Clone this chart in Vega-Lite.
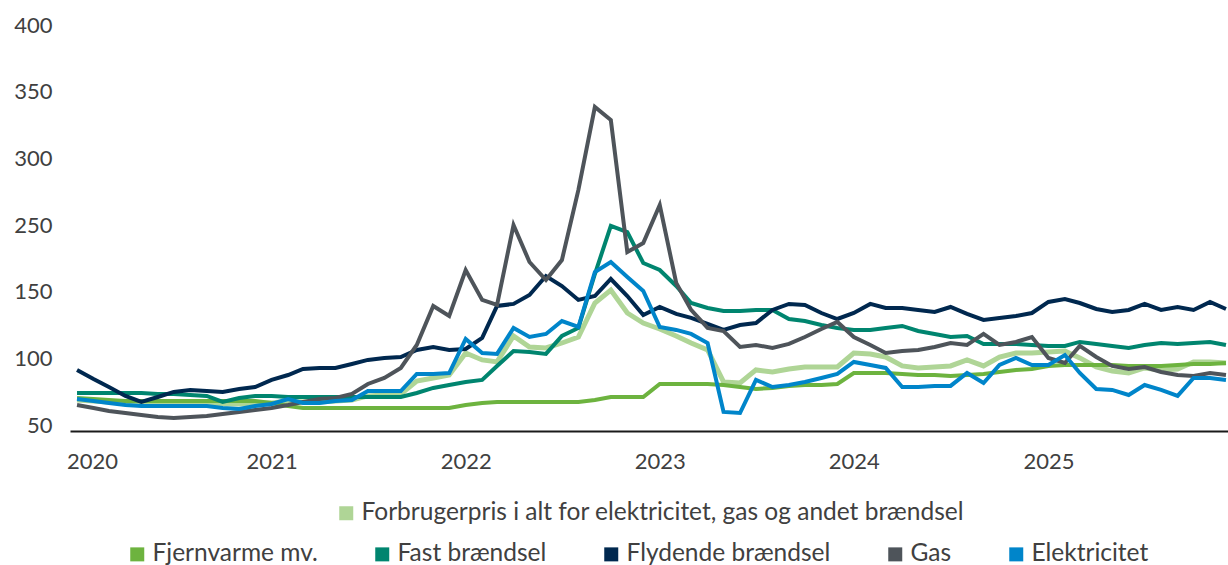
{
"$schema":"https://vega.github.io/schema/vega-lite/v6.json",
"width":1158,"height":400,"autosize":"none",
"padding":{"left":70,"top":31,"right":0,"bottom":134},
"background":"white",
"config":{"view":{"stroke":null},"font":"Lato",
"axis":{"labelFont":"Lato","labelFontSize":22,"labelColor":"#404040","grid":false,"ticks":false,"title":null},
"legend":{"labelFont":"Lato","labelFontSize":24.5,"labelColor":"#404040","symbolType":"square","symbolSize":196,"symbolStrokeWidth":0,"labelOffset":3,"labelLimit":800,"title":null}},
"data":{"values":[
{"m":"2020-01","s":"Forbrugerpris i alt for elektricitet, gas og andet brændsel","v":73.3},{"m":"2020-02","s":"Forbrugerpris i alt for elektricitet, gas og andet brændsel","v":72.5},{"m":"2020-03","s":"Forbrugerpris i alt for elektricitet, gas og andet brændsel","v":71.8},{"m":"2020-04","s":"Forbrugerpris i alt for elektricitet, gas og andet brændsel","v":71.8},{"m":"2020-05","s":"Forbrugerpris i alt for elektricitet, gas og andet brændsel","v":71},{"m":"2020-06","s":"Forbrugerpris i alt for elektricitet, gas og andet brændsel","v":71},{"m":"2020-07","s":"Forbrugerpris i alt for elektricitet, gas og andet brændsel","v":71},{"m":"2020-08","s":"Forbrugerpris i alt for elektricitet, gas og andet brændsel","v":71},{"m":"2020-09","s":"Forbrugerpris i alt for elektricitet, gas og andet brændsel","v":71},{"m":"2020-10","s":"Forbrugerpris i alt for elektricitet, gas og andet brændsel","v":70.3},{"m":"2020-11","s":"Forbrugerpris i alt for elektricitet, gas og andet brændsel","v":70.3},{"m":"2020-12","s":"Forbrugerpris i alt for elektricitet, gas og andet brændsel","v":71},
{"m":"2021-01","s":"Forbrugerpris i alt for elektricitet, gas og andet brændsel","v":71},{"m":"2021-02","s":"Forbrugerpris i alt for elektricitet, gas og andet brændsel","v":72.5},{"m":"2021-03","s":"Forbrugerpris i alt for elektricitet, gas og andet brændsel","v":71.8},{"m":"2021-04","s":"Forbrugerpris i alt for elektricitet, gas og andet brændsel","v":71.8},{"m":"2021-05","s":"Forbrugerpris i alt for elektricitet, gas og andet brændsel","v":72.5},{"m":"2021-06","s":"Forbrugerpris i alt for elektricitet, gas og andet brændsel","v":73.3},{"m":"2021-07","s":"Forbrugerpris i alt for elektricitet, gas og andet brændsel","v":76.3},{"m":"2021-08","s":"Forbrugerpris i alt for elektricitet, gas og andet brændsel","v":77},{"m":"2021-09","s":"Forbrugerpris i alt for elektricitet, gas og andet brændsel","v":77.8},{"m":"2021-10","s":"Forbrugerpris i alt for elektricitet, gas og andet brændsel","v":87.5},{"m":"2021-11","s":"Forbrugerpris i alt for elektricitet, gas og andet brændsel","v":89.8},{"m":"2021-12","s":"Forbrugerpris i alt for elektricitet, gas og andet brændsel","v":92},
{"m":"2022-01","s":"Forbrugerpris i alt for elektricitet, gas og andet brændsel","v":108.5},{"m":"2022-02","s":"Forbrugerpris i alt for elektricitet, gas og andet brændsel","v":103.3},{"m":"2022-03","s":"Forbrugerpris i alt for elektricitet, gas og andet brændsel","v":101.8},{"m":"2022-04","s":"Forbrugerpris i alt for elektricitet, gas og andet brændsel","v":121.3},{"m":"2022-05","s":"Forbrugerpris i alt for elektricitet, gas og andet brændsel","v":113},{"m":"2022-06","s":"Forbrugerpris i alt for elektricitet, gas og andet brændsel","v":112.3},{"m":"2022-07","s":"Forbrugerpris i alt for elektricitet, gas og andet brændsel","v":116},{"m":"2022-08","s":"Forbrugerpris i alt for elektricitet, gas og andet brændsel","v":120.5},{"m":"2022-09","s":"Forbrugerpris i alt for elektricitet, gas og andet brændsel","v":146},{"m":"2022-10","s":"Forbrugerpris i alt for elektricitet, gas og andet brændsel","v":161.5},{"m":"2022-11","s":"Forbrugerpris i alt for elektricitet, gas og andet brændsel","v":138.5},{"m":"2022-12","s":"Forbrugerpris i alt for elektricitet, gas og andet brændsel","v":131},
{"m":"2023-01","s":"Forbrugerpris i alt for elektricitet, gas og andet brændsel","v":126.5},{"m":"2023-02","s":"Forbrugerpris i alt for elektricitet, gas og andet brændsel","v":121.3},{"m":"2023-03","s":"Forbrugerpris i alt for elektricitet, gas og andet brændsel","v":116},{"m":"2023-04","s":"Forbrugerpris i alt for elektricitet, gas og andet brændsel","v":110.8},{"m":"2023-05","s":"Forbrugerpris i alt for elektricitet, gas og andet brændsel","v":86.8},{"m":"2023-06","s":"Forbrugerpris i alt for elektricitet, gas og andet brændsel","v":86},{"m":"2023-07","s":"Forbrugerpris i alt for elektricitet, gas og andet brændsel","v":95.8},{"m":"2023-08","s":"Forbrugerpris i alt for elektricitet, gas og andet brændsel","v":94.3},{"m":"2023-09","s":"Forbrugerpris i alt for elektricitet, gas og andet brændsel","v":96.5},{"m":"2023-10","s":"Forbrugerpris i alt for elektricitet, gas og andet brændsel","v":98},{"m":"2023-11","s":"Forbrugerpris i alt for elektricitet, gas og andet brændsel","v":98},{"m":"2023-12","s":"Forbrugerpris i alt for elektricitet, gas og andet brændsel","v":98},
{"m":"2024-01","s":"Forbrugerpris i alt for elektricitet, gas og andet brændsel","v":108.5},{"m":"2024-02","s":"Forbrugerpris i alt for elektricitet, gas og andet brændsel","v":107.8},{"m":"2024-03","s":"Forbrugerpris i alt for elektricitet, gas og andet brændsel","v":105.5},{"m":"2024-04","s":"Forbrugerpris i alt for elektricitet, gas og andet brændsel","v":98.8},{"m":"2024-05","s":"Forbrugerpris i alt for elektricitet, gas og andet brændsel","v":97.3},{"m":"2024-06","s":"Forbrugerpris i alt for elektricitet, gas og andet brændsel","v":98},{"m":"2024-07","s":"Forbrugerpris i alt for elektricitet, gas og andet brændsel","v":98.8},{"m":"2024-08","s":"Forbrugerpris i alt for elektricitet, gas og andet brændsel","v":103.3},{"m":"2024-09","s":"Forbrugerpris i alt for elektricitet, gas og andet brændsel","v":98.8},{"m":"2024-10","s":"Forbrugerpris i alt for elektricitet, gas og andet brændsel","v":105.5},{"m":"2024-11","s":"Forbrugerpris i alt for elektricitet, gas og andet brændsel","v":108.5},{"m":"2024-12","s":"Forbrugerpris i alt for elektricitet, gas og andet brændsel","v":108.5},
{"m":"2025-01","s":"Forbrugerpris i alt for elektricitet, gas og andet brændsel","v":109.3},{"m":"2025-02","s":"Forbrugerpris i alt for elektricitet, gas og andet brændsel","v":110},{"m":"2025-03","s":"Forbrugerpris i alt for elektricitet, gas og andet brændsel","v":104.8},{"m":"2025-04","s":"Forbrugerpris i alt for elektricitet, gas og andet brændsel","v":98},{"m":"2025-05","s":"Forbrugerpris i alt for elektricitet, gas og andet brændsel","v":95},{"m":"2025-06","s":"Forbrugerpris i alt for elektricitet, gas og andet brændsel","v":93.5},{"m":"2025-07","s":"Forbrugerpris i alt for elektricitet, gas og andet brændsel","v":97.3},{"m":"2025-08","s":"Forbrugerpris i alt for elektricitet, gas og andet brændsel","v":95.8},{"m":"2025-09","s":"Forbrugerpris i alt for elektricitet, gas og andet brændsel","v":96.5},{"m":"2025-10","s":"Forbrugerpris i alt for elektricitet, gas og andet brændsel","v":101.8},{"m":"2025-11","s":"Forbrugerpris i alt for elektricitet, gas og andet brændsel","v":101.8},{"m":"2025-12","s":"Forbrugerpris i alt for elektricitet, gas og andet brændsel","v":101},
{"m":"2020-01","s":"Fjernvarme mv.","v":74.8},{"m":"2020-02","s":"Fjernvarme mv.","v":74},{"m":"2020-03","s":"Fjernvarme mv.","v":73.3},{"m":"2020-04","s":"Fjernvarme mv.","v":72.5},{"m":"2020-05","s":"Fjernvarme mv.","v":72.5},{"m":"2020-06","s":"Fjernvarme mv.","v":72.5},{"m":"2020-07","s":"Fjernvarme mv.","v":72.5},{"m":"2020-08","s":"Fjernvarme mv.","v":72.5},{"m":"2020-09","s":"Fjernvarme mv.","v":72.5},{"m":"2020-10","s":"Fjernvarme mv.","v":72.5},{"m":"2020-11","s":"Fjernvarme mv.","v":72.5},{"m":"2020-12","s":"Fjernvarme mv.","v":72.5},
{"m":"2021-01","s":"Fjernvarme mv.","v":71},{"m":"2021-02","s":"Fjernvarme mv.","v":68.8},{"m":"2021-03","s":"Fjernvarme mv.","v":67.3},{"m":"2021-04","s":"Fjernvarme mv.","v":67.3},{"m":"2021-05","s":"Fjernvarme mv.","v":67.3},{"m":"2021-06","s":"Fjernvarme mv.","v":67.3},{"m":"2021-07","s":"Fjernvarme mv.","v":67.3},{"m":"2021-08","s":"Fjernvarme mv.","v":67.3},{"m":"2021-09","s":"Fjernvarme mv.","v":67.3},{"m":"2021-10","s":"Fjernvarme mv.","v":67.3},{"m":"2021-11","s":"Fjernvarme mv.","v":67.3},{"m":"2021-12","s":"Fjernvarme mv.","v":67.3},
{"m":"2022-01","s":"Fjernvarme mv.","v":69.5},{"m":"2022-02","s":"Fjernvarme mv.","v":71},{"m":"2022-03","s":"Fjernvarme mv.","v":71.8},{"m":"2022-04","s":"Fjernvarme mv.","v":71.8},{"m":"2022-05","s":"Fjernvarme mv.","v":71.8},{"m":"2022-06","s":"Fjernvarme mv.","v":71.8},{"m":"2022-07","s":"Fjernvarme mv.","v":71.8},{"m":"2022-08","s":"Fjernvarme mv.","v":71.8},{"m":"2022-09","s":"Fjernvarme mv.","v":73.3},{"m":"2022-10","s":"Fjernvarme mv.","v":75.5},{"m":"2022-11","s":"Fjernvarme mv.","v":75.5},{"m":"2022-12","s":"Fjernvarme mv.","v":75.5},
{"m":"2023-01","s":"Fjernvarme mv.","v":85.3},{"m":"2023-02","s":"Fjernvarme mv.","v":85.3},{"m":"2023-03","s":"Fjernvarme mv.","v":85.3},{"m":"2023-04","s":"Fjernvarme mv.","v":85.3},{"m":"2023-05","s":"Fjernvarme mv.","v":84.5},{"m":"2023-06","s":"Fjernvarme mv.","v":83},{"m":"2023-07","s":"Fjernvarme mv.","v":81.5},{"m":"2023-08","s":"Fjernvarme mv.","v":82.3},{"m":"2023-09","s":"Fjernvarme mv.","v":83.8},{"m":"2023-10","s":"Fjernvarme mv.","v":84.5},{"m":"2023-11","s":"Fjernvarme mv.","v":84.5},{"m":"2023-12","s":"Fjernvarme mv.","v":85.3},
{"m":"2024-01","s":"Fjernvarme mv.","v":93.5},{"m":"2024-02","s":"Fjernvarme mv.","v":93.5},{"m":"2024-03","s":"Fjernvarme mv.","v":93.5},{"m":"2024-04","s":"Fjernvarme mv.","v":92.8},{"m":"2024-05","s":"Fjernvarme mv.","v":92},{"m":"2024-06","s":"Fjernvarme mv.","v":92},{"m":"2024-07","s":"Fjernvarme mv.","v":91.3},{"m":"2024-08","s":"Fjernvarme mv.","v":92},{"m":"2024-09","s":"Fjernvarme mv.","v":92.8},{"m":"2024-10","s":"Fjernvarme mv.","v":94.3},{"m":"2024-11","s":"Fjernvarme mv.","v":95.8},{"m":"2024-12","s":"Fjernvarme mv.","v":96.5},
{"m":"2025-01","s":"Fjernvarme mv.","v":98.8},{"m":"2025-02","s":"Fjernvarme mv.","v":99.5},{"m":"2025-03","s":"Fjernvarme mv.","v":99.5},{"m":"2025-04","s":"Fjernvarme mv.","v":99.5},{"m":"2025-05","s":"Fjernvarme mv.","v":99.5},{"m":"2025-06","s":"Fjernvarme mv.","v":98.8},{"m":"2025-07","s":"Fjernvarme mv.","v":98.8},{"m":"2025-08","s":"Fjernvarme mv.","v":98.8},{"m":"2025-09","s":"Fjernvarme mv.","v":99.5},{"m":"2025-10","s":"Fjernvarme mv.","v":100.3},{"m":"2025-11","s":"Fjernvarme mv.","v":100.3},{"m":"2025-12","s":"Fjernvarme mv.","v":101},
{"m":"2020-01","s":"Fast brændsel","v":78.5},{"m":"2020-02","s":"Fast brændsel","v":78.5},{"m":"2020-03","s":"Fast brændsel","v":78.5},{"m":"2020-04","s":"Fast brændsel","v":78.5},{"m":"2020-05","s":"Fast brændsel","v":78.5},{"m":"2020-06","s":"Fast brændsel","v":77.8},{"m":"2020-07","s":"Fast brændsel","v":77.8},{"m":"2020-08","s":"Fast brændsel","v":77},{"m":"2020-09","s":"Fast brændsel","v":76.3},{"m":"2020-10","s":"Fast brændsel","v":71.8},{"m":"2020-11","s":"Fast brændsel","v":74.8},{"m":"2020-12","s":"Fast brændsel","v":76.3},
{"m":"2021-01","s":"Fast brændsel","v":76.3},{"m":"2021-02","s":"Fast brændsel","v":75.5},{"m":"2021-03","s":"Fast brændsel","v":75.5},{"m":"2021-04","s":"Fast brændsel","v":75.5},{"m":"2021-05","s":"Fast brændsel","v":75.5},{"m":"2021-06","s":"Fast brændsel","v":75.5},{"m":"2021-07","s":"Fast brændsel","v":75.5},{"m":"2021-08","s":"Fast brændsel","v":75.5},{"m":"2021-09","s":"Fast brændsel","v":75.5},{"m":"2021-10","s":"Fast brændsel","v":78.5},{"m":"2021-11","s":"Fast brændsel","v":82.3},{"m":"2021-12","s":"Fast brændsel","v":84.5},
{"m":"2022-01","s":"Fast brændsel","v":86.8},{"m":"2022-02","s":"Fast brændsel","v":88.3},{"m":"2022-03","s":"Fast brændsel","v":98.8},{"m":"2022-04","s":"Fast brændsel","v":110},{"m":"2022-05","s":"Fast brændsel","v":109.3},{"m":"2022-06","s":"Fast brændsel","v":107.8},{"m":"2022-07","s":"Fast brændsel","v":121.3},{"m":"2022-08","s":"Fast brændsel","v":127.3},{"m":"2022-09","s":"Fast brændsel","v":185.5},{"m":"2022-10","s":"Fast brændsel","v":253.8},{"m":"2022-11","s":"Fast brændsel","v":248.5},{"m":"2022-12","s":"Fast brændsel","v":202},
{"m":"2023-01","s":"Fast brændsel","v":191.5},{"m":"2023-02","s":"Fast brændsel","v":167.5},{"m":"2023-03","s":"Fast brændsel","v":146},{"m":"2023-04","s":"Fast brændsel","v":142.3},{"m":"2023-05","s":"Fast brændsel","v":140},{"m":"2023-06","s":"Fast brændsel","v":140},{"m":"2023-07","s":"Fast brændsel","v":140.8},{"m":"2023-08","s":"Fast brændsel","v":140.8},{"m":"2023-09","s":"Fast brændsel","v":134},{"m":"2023-10","s":"Fast brændsel","v":132.5},{"m":"2023-11","s":"Fast brændsel","v":129.5},{"m":"2023-12","s":"Fast brændsel","v":127.3},
{"m":"2024-01","s":"Fast brændsel","v":125.8},{"m":"2024-02","s":"Fast brændsel","v":125.8},{"m":"2024-03","s":"Fast brændsel","v":127.3},{"m":"2024-04","s":"Fast brændsel","v":128.8},{"m":"2024-05","s":"Fast brændsel","v":125},{"m":"2024-06","s":"Fast brændsel","v":122.8},{"m":"2024-07","s":"Fast brændsel","v":120.5},{"m":"2024-08","s":"Fast brændsel","v":121.3},{"m":"2024-09","s":"Fast brændsel","v":115.3},{"m":"2024-10","s":"Fast brændsel","v":115.3},{"m":"2024-11","s":"Fast brændsel","v":115.3},{"m":"2024-12","s":"Fast brændsel","v":114.5},
{"m":"2025-01","s":"Fast brændsel","v":113.8},{"m":"2025-02","s":"Fast brændsel","v":113.8},{"m":"2025-03","s":"Fast brændsel","v":116.8},{"m":"2025-04","s":"Fast brændsel","v":115.3},{"m":"2025-05","s":"Fast brændsel","v":113.8},{"m":"2025-06","s":"Fast brændsel","v":112.3},{"m":"2025-07","s":"Fast brændsel","v":114.5},{"m":"2025-08","s":"Fast brændsel","v":116},{"m":"2025-09","s":"Fast brændsel","v":115.3},{"m":"2025-10","s":"Fast brændsel","v":116},{"m":"2025-11","s":"Fast brændsel","v":116.8},{"m":"2025-12","s":"Fast brændsel","v":114.5},
{"m":"2020-01","s":"Flydende brændsel","v":95.8},{"m":"2020-02","s":"Flydende brændsel","v":89},{"m":"2020-03","s":"Flydende brændsel","v":83},{"m":"2020-04","s":"Flydende brændsel","v":76.3},{"m":"2020-05","s":"Flydende brændsel","v":71.8},{"m":"2020-06","s":"Flydende brændsel","v":75.5},{"m":"2020-07","s":"Flydende brændsel","v":79.3},{"m":"2020-08","s":"Flydende brændsel","v":80.8},{"m":"2020-09","s":"Flydende brændsel","v":80},{"m":"2020-10","s":"Flydende brændsel","v":79.3},{"m":"2020-11","s":"Flydende brændsel","v":81.5},{"m":"2020-12","s":"Flydende brændsel","v":83},
{"m":"2021-01","s":"Flydende brændsel","v":88.3},{"m":"2021-02","s":"Flydende brændsel","v":92},{"m":"2021-03","s":"Flydende brændsel","v":96.5},{"m":"2021-04","s":"Flydende brændsel","v":97.3},{"m":"2021-05","s":"Flydende brændsel","v":97.3},{"m":"2021-06","s":"Flydende brændsel","v":100.3},{"m":"2021-07","s":"Flydende brændsel","v":103.3},{"m":"2021-08","s":"Flydende brændsel","v":104.8},{"m":"2021-09","s":"Flydende brændsel","v":105.5},{"m":"2021-10","s":"Flydende brændsel","v":110.8},{"m":"2021-11","s":"Flydende brændsel","v":113},{"m":"2021-12","s":"Flydende brændsel","v":110.8},
{"m":"2022-01","s":"Flydende brændsel","v":111.5},{"m":"2022-02","s":"Flydende brændsel","v":119.8},{"m":"2022-03","s":"Flydende brændsel","v":143.8},{"m":"2022-04","s":"Flydende brændsel","v":145.3},{"m":"2022-05","s":"Flydende brændsel","v":154},{"m":"2022-06","s":"Flydende brændsel","v":182.5},{"m":"2022-07","s":"Flydende brændsel","v":167.5},{"m":"2022-08","s":"Flydende brændsel","v":148.3},{"m":"2022-09","s":"Flydende brændsel","v":152.5},{"m":"2022-10","s":"Flydende brændsel","v":178},{"m":"2022-11","s":"Flydende brændsel","v":152.5},{"m":"2022-12","s":"Flydende brændsel","v":137},
{"m":"2023-01","s":"Flydende brændsel","v":143},{"m":"2023-02","s":"Flydende brændsel","v":137.8},{"m":"2023-03","s":"Flydende brændsel","v":134.8},{"m":"2023-04","s":"Flydende brændsel","v":130.3},{"m":"2023-05","s":"Flydende brændsel","v":125.8},{"m":"2023-06","s":"Flydende brændsel","v":129.5},{"m":"2023-07","s":"Flydende brændsel","v":131},{"m":"2023-08","s":"Flydende brændsel","v":140.8},{"m":"2023-09","s":"Flydende brændsel","v":145.3},{"m":"2023-10","s":"Flydende brændsel","v":144.5},{"m":"2023-11","s":"Flydende brændsel","v":138.5},{"m":"2023-12","s":"Flydende brændsel","v":134},
{"m":"2024-01","s":"Flydende brændsel","v":138.5},{"m":"2024-02","s":"Flydende brændsel","v":145.3},{"m":"2024-03","s":"Flydende brændsel","v":142.3},{"m":"2024-04","s":"Flydende brændsel","v":142.3},{"m":"2024-05","s":"Flydende brændsel","v":140.8},{"m":"2024-06","s":"Flydende brændsel","v":139.3},{"m":"2024-07","s":"Flydende brændsel","v":143},{"m":"2024-08","s":"Flydende brændsel","v":137.8},{"m":"2024-09","s":"Flydende brændsel","v":133.3},{"m":"2024-10","s":"Flydende brændsel","v":134.8},{"m":"2024-11","s":"Flydende brændsel","v":136.3},{"m":"2024-12","s":"Flydende brændsel","v":138.5},
{"m":"2025-01","s":"Flydende brændsel","v":146.8},{"m":"2025-02","s":"Flydende brændsel","v":149},{"m":"2025-03","s":"Flydende brændsel","v":146},{"m":"2025-04","s":"Flydende brændsel","v":141.5},{"m":"2025-05","s":"Flydende brændsel","v":139.3},{"m":"2025-06","s":"Flydende brændsel","v":140.8},{"m":"2025-07","s":"Flydende brændsel","v":145.3},{"m":"2025-08","s":"Flydende brændsel","v":140.8},{"m":"2025-09","s":"Flydende brændsel","v":143},{"m":"2025-10","s":"Flydende brændsel","v":140.8},{"m":"2025-11","s":"Flydende brændsel","v":146.8},{"m":"2025-12","s":"Flydende brændsel","v":141.5},
{"m":"2020-01","s":"Gas","v":69.5},{"m":"2020-02","s":"Gas","v":67.3},{"m":"2020-03","s":"Gas","v":65},{"m":"2020-04","s":"Gas","v":63.5},{"m":"2020-05","s":"Gas","v":62},{"m":"2020-06","s":"Gas","v":60.5},{"m":"2020-07","s":"Gas","v":59.8},{"m":"2020-08","s":"Gas","v":60.5},{"m":"2020-09","s":"Gas","v":61.3},{"m":"2020-10","s":"Gas","v":62.8},{"m":"2020-11","s":"Gas","v":64.3},{"m":"2020-12","s":"Gas","v":65.8},
{"m":"2021-01","s":"Gas","v":67.3},{"m":"2021-02","s":"Gas","v":69.5},{"m":"2021-03","s":"Gas","v":71.8},{"m":"2021-04","s":"Gas","v":74},{"m":"2021-05","s":"Gas","v":74.8},{"m":"2021-06","s":"Gas","v":77.8},{"m":"2021-07","s":"Gas","v":85.3},{"m":"2021-08","s":"Gas","v":89.8},{"m":"2021-09","s":"Gas","v":97.3},{"m":"2021-10","s":"Gas","v":114.5},{"m":"2021-11","s":"Gas","v":143.8},{"m":"2021-12","s":"Gas","v":136.3},
{"m":"2022-01","s":"Gas","v":191.5},{"m":"2022-02","s":"Gas","v":148.3},{"m":"2022-03","s":"Gas","v":144.5},{"m":"2022-04","s":"Gas","v":254.5},{"m":"2022-05","s":"Gas","v":203.5},{"m":"2022-06","s":"Gas","v":176.5},{"m":"2022-07","s":"Gas","v":206.5},{"m":"2022-08","s":"Gas","v":280.8},{"m":"2022-09","s":"Gas","v":343},{"m":"2022-10","s":"Gas","v":333.3},{"m":"2022-11","s":"Gas","v":218.5},{"m":"2022-12","s":"Gas","v":232},
{"m":"2023-01","s":"Gas","v":269.5},{"m":"2023-02","s":"Gas","v":172},{"m":"2023-03","s":"Gas","v":140.8},{"m":"2023-04","s":"Gas","v":127.3},{"m":"2023-05","s":"Gas","v":125},{"m":"2023-06","s":"Gas","v":113},{"m":"2023-07","s":"Gas","v":114.5},{"m":"2023-08","s":"Gas","v":112.3},{"m":"2023-09","s":"Gas","v":115.3},{"m":"2023-10","s":"Gas","v":120.5},{"m":"2023-11","s":"Gas","v":126.5},{"m":"2023-12","s":"Gas","v":131.8},
{"m":"2024-01","s":"Gas","v":120.5},{"m":"2024-02","s":"Gas","v":114.5},{"m":"2024-03","s":"Gas","v":108.5},{"m":"2024-04","s":"Gas","v":110},{"m":"2024-05","s":"Gas","v":110.8},{"m":"2024-06","s":"Gas","v":113},{"m":"2024-07","s":"Gas","v":116},{"m":"2024-08","s":"Gas","v":114.5},{"m":"2024-09","s":"Gas","v":122.8},{"m":"2024-10","s":"Gas","v":114.5},{"m":"2024-11","s":"Gas","v":116.8},{"m":"2024-12","s":"Gas","v":120.5},
{"m":"2025-01","s":"Gas","v":104.8},{"m":"2025-02","s":"Gas","v":101},{"m":"2025-03","s":"Gas","v":113.8},{"m":"2025-04","s":"Gas","v":105.5},{"m":"2025-05","s":"Gas","v":98.8},{"m":"2025-06","s":"Gas","v":96.5},{"m":"2025-07","s":"Gas","v":98},{"m":"2025-08","s":"Gas","v":94.3},{"m":"2025-09","s":"Gas","v":92},{"m":"2025-10","s":"Gas","v":91.3},{"m":"2025-11","s":"Gas","v":93.5},{"m":"2025-12","s":"Gas","v":92},
{"m":"2020-01","s":"Elektricitet","v":74},{"m":"2020-02","s":"Elektricitet","v":72.5},{"m":"2020-03","s":"Elektricitet","v":71},{"m":"2020-04","s":"Elektricitet","v":69.5},{"m":"2020-05","s":"Elektricitet","v":68.8},{"m":"2020-06","s":"Elektricitet","v":68.8},{"m":"2020-07","s":"Elektricitet","v":68.8},{"m":"2020-08","s":"Elektricitet","v":68.8},{"m":"2020-09","s":"Elektricitet","v":68.8},{"m":"2020-10","s":"Elektricitet","v":67.3},{"m":"2020-11","s":"Elektricitet","v":66.5},{"m":"2020-12","s":"Elektricitet","v":68.8},
{"m":"2021-01","s":"Elektricitet","v":70.3},{"m":"2021-02","s":"Elektricitet","v":74},{"m":"2021-03","s":"Elektricitet","v":71},{"m":"2021-04","s":"Elektricitet","v":71},{"m":"2021-05","s":"Elektricitet","v":72.5},{"m":"2021-06","s":"Elektricitet","v":73.3},{"m":"2021-07","s":"Elektricitet","v":80},{"m":"2021-08","s":"Elektricitet","v":80},{"m":"2021-09","s":"Elektricitet","v":80},{"m":"2021-10","s":"Elektricitet","v":92.8},{"m":"2021-11","s":"Elektricitet","v":92.8},{"m":"2021-12","s":"Elektricitet","v":93.5},
{"m":"2022-01","s":"Elektricitet","v":119},{"m":"2022-02","s":"Elektricitet","v":108.5},{"m":"2022-03","s":"Elektricitet","v":107.8},{"m":"2022-04","s":"Elektricitet","v":127.3},{"m":"2022-05","s":"Elektricitet","v":120.5},{"m":"2022-06","s":"Elektricitet","v":122.8},{"m":"2022-07","s":"Elektricitet","v":132.5},{"m":"2022-08","s":"Elektricitet","v":128},{"m":"2022-09","s":"Elektricitet","v":188.5},{"m":"2022-10","s":"Elektricitet","v":203.5},{"m":"2022-11","s":"Elektricitet","v":181},{"m":"2022-12","s":"Elektricitet","v":160},
{"m":"2023-01","s":"Elektricitet","v":128},{"m":"2023-02","s":"Elektricitet","v":125.8},{"m":"2023-03","s":"Elektricitet","v":122.8},{"m":"2023-04","s":"Elektricitet","v":116},{"m":"2023-05","s":"Elektricitet","v":64.3},{"m":"2023-06","s":"Elektricitet","v":63.5},{"m":"2023-07","s":"Elektricitet","v":88.3},{"m":"2023-08","s":"Elektricitet","v":83},{"m":"2023-09","s":"Elektricitet","v":84.5},{"m":"2023-10","s":"Elektricitet","v":86.8},{"m":"2023-11","s":"Elektricitet","v":89.8},{"m":"2023-12","s":"Elektricitet","v":92.8},
{"m":"2024-01","s":"Elektricitet","v":101.8},{"m":"2024-02","s":"Elektricitet","v":99.5},{"m":"2024-03","s":"Elektricitet","v":97.3},{"m":"2024-04","s":"Elektricitet","v":83},{"m":"2024-05","s":"Elektricitet","v":83},{"m":"2024-06","s":"Elektricitet","v":83.8},{"m":"2024-07","s":"Elektricitet","v":83.8},{"m":"2024-08","s":"Elektricitet","v":93.5},{"m":"2024-09","s":"Elektricitet","v":86},{"m":"2024-10","s":"Elektricitet","v":99.5},{"m":"2024-11","s":"Elektricitet","v":104.8},{"m":"2024-12","s":"Elektricitet","v":99.5},
{"m":"2025-01","s":"Elektricitet","v":99.5},{"m":"2025-02","s":"Elektricitet","v":107},{"m":"2025-03","s":"Elektricitet","v":93.5},{"m":"2025-04","s":"Elektricitet","v":81.5},{"m":"2025-05","s":"Elektricitet","v":80.8},{"m":"2025-06","s":"Elektricitet","v":77},{"m":"2025-07","s":"Elektricitet","v":84.5},{"m":"2025-08","s":"Elektricitet","v":80.8},{"m":"2025-09","s":"Elektricitet","v":76.3},{"m":"2025-10","s":"Elektricitet","v":89.8},{"m":"2025-11","s":"Elektricitet","v":89.8},{"m":"2025-12","s":"Elektricitet","v":88.3}
]},
"encoding":{
"x":{"field":"m","type":"temporal","scale":{"type":"utc","domain":[{"year":2019,"month":12,"date":18,"hours":19,"utc":true},{"year":2025,"month":12,"date":4,"hours":19,"utc":true}]},
"axis":{"title":null,"format":"%Y","values":[{"year":2020,"utc":true},{"year":2021,"utc":true},{"year":2022,"utc":true},{"year":2023,"utc":true},{"year":2024,"utc":true},{"year":2025,"utc":true}],"domainColor":"#1a1a1a","domainWidth":2,"ticks":false,"grid":false,"labelPadding":20,"labelFlush":false,"labelOffset":{"condition":{"test":"utcyear(datum.value) == 2020","value":15},"value":0}}},
"y":{"field":"v","type":"quantitative","scale":{"domain":[50,150,250,400],"range":[400,266.667,200,0],"nice":false,"zero":false},
"axis":{"title":null,"values":[50,100,150,250,300,350,400],"domain":false,"ticks":false,"grid":false,"labelPadding":18,"labelOffset":-6}}
},
"layer":[
{"transform":[{"filter":{"field":"s","equal":"Forbrugerpris i alt for elektricitet, gas og andet brændsel"}}],
"mark":{"type":"line","strokeWidth":5},
"encoding":{"stroke":{"field":"s","type":"nominal","scale":{"domain":["Forbrugerpris i alt for elektricitet, gas og andet brændsel"],"range":["#AFD596"]},
"legend":{"title":null,"orient":"none","legendX":264,"legendY":470,"direction":"horizontal","encode":{"symbols":{"update":{"fill":{"scale":"stroke","field":"value"},"stroke":{"value":"transparent"}}}}}}}},
{"transform":[{"filter":{"not":{"field":"s","equal":"Forbrugerpris i alt for elektricitet, gas og andet brændsel"}}}],
"mark":{"type":"line","strokeWidth":4},
"encoding":{"color":{"field":"s","type":"nominal","sort":null,"scale":{"domain":["Fjernvarme mv.","Fast brændsel","Flydende brændsel","Gas","Elektricitet"],"range":["#6DB33F","#00856F","#00284F","#4E545A","#0085CA"]},
"legend":{"title":null,"orient":"none","legendX":55,"legendY":511,"direction":"horizontal","columns":5,"columnPadding":52,"encode":{"symbols":{"update":{"fill":{"scale":"color","field":"value"},"stroke":{"value":"transparent"}}}}}}}}
]
}
